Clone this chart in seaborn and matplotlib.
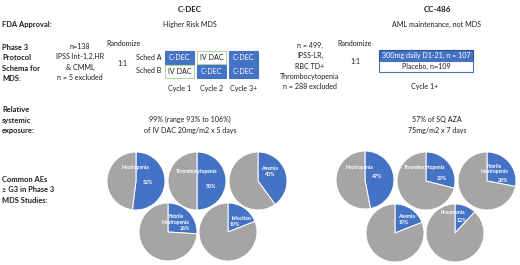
import matplotlib
matplotlib.use("Agg")
import matplotlib.pyplot as plt
import seaborn as sns
from matplotlib.patches import Rectangle

# adverse events >= G3 (percent of patients)
cdec_aes = ["Neutropenia", "Thrombocytopenia", "Anemia", "Febrile\nNeutropenia", "Infection"]
cdec_pct = [52, 50, 40, 26, 19]
cc486_aes = ["Neutropenia", "Thrombocytopenia", "Febrile\nNeutropenia", "Anemia", "Pneumonia"]
cc486_pct = [47, 29, 28, 19, 12]

# schema cells per cycle
cdec_cycles = ["Cycle 1", "Cycle 2", "Cycle 3+"]
sched_a = ["C-DEC", "IV DAC", "C-DEC"]
sched_b = ["IV DAC", "C-DEC", "C-DEC"]

BLUE = "#4472C4"
GREY = "#A5A5A5"
TXT = "#1e1e1e"
W, H = 520, 265

sns.set_theme(style="white")
plt.rcParams["font.family"] = ["Lato", "DejaVu Sans"]

fig = plt.figure(figsize=(W / 100, H / 100), dpi=100)
ax = fig.add_axes([0, 0, 1, 1])
ax.set_xlim(0, W)
ax.set_ylim(H, 0)
ax.axis("off")

fs = 5.1


def t(x, y, s, bold=False, ha="center", **kw):
    ax.text(x, y, s, ha=ha, va="center", fontsize=kw.pop("size", fs),
            fontweight="bold" if bold else "normal", color=kw.pop("color", TXT), **kw)


# headers / row labels
t(190, 10, "C-DEC", bold=True, size=5.8)
t(437, 10, "CC-486", bold=True, size=5.8)
t(2, 24, "FDA Approval:", bold=True, ha="left", size=5.4)
t(190, 24, "Higher Risk MDS")
t(437, 24, "AML maintenance, not MDS")
t(2, 63, "Phase 3\nProtocol\nSchema for\nMDS:", bold=True, ha="left", linespacing=1.55, size=5.4)
t(2, 120, "Relative\nsystemic\nexposure:", bold=True, ha="left", linespacing=1.55, size=5.4)
t(2, 190, "Common AEs\n\u2265 G3 in Phase 3\nMDS Studies:", bold=True, ha="left", linespacing=1.55, size=5.4)

# C-DEC schema
t(80, 62, "n=138\nIPSS Int-1,2,HR\n& CMML\nn = 5 excluded", linespacing=1.55)
t(124, 43, "Randomize")
t(122, 64, "1:1")
t(149, 57, "Sched A")
t(149, 70.5, "Sched B")
col_x = [165, 197, 229]
for i, cyc in enumerate(cdec_cycles):
    for row_y, drug in [(50.5, sched_a[i]), (64.5, sched_b[i])]:
        blue = drug == "C-DEC"
        ax.add_patch(Rectangle((col_x[i], row_y), 29, 13,
                               facecolor=BLUE if blue else "white",
                               edgecolor=BLUE if blue else "#B4D69A", lw=0.8))
        t(col_x[i] + 14.5, row_y + 6.5, drug, color="white" if blue else TXT)
    t(col_x[i] + 14.5, 89, cyc)
t(190, 125, "99% (range 93% to 106%)\nof IV DAC 20mg/m2 x 5 days", linespacing=1.55)

# CC-486 schema
t(310, 66, "n = 499,\nIPSS-LR,\nRBC TD+\nThrombocytopenia\nn = 288 excluded", linespacing=1.55)
t(355, 43, "Randomize")
t(355, 62, "1:1")
ax.add_patch(Rectangle((379, 50), 94, 10.5, facecolor=BLUE, edgecolor="#2F528F", lw=0.8))
t(426, 55.3, "300mg daily D1-21, n = 107", color="white")
ax.add_patch(Rectangle((379, 60.5), 94, 11.5, facecolor="white", edgecolor=BLUE, lw=0.8))
t(426, 66.3, "Placebo, n=109")
t(425, 86, "Cycle 1+")
t(437, 125, "57% of SQ AZA\n75mg/m2 x 7 days", linespacing=1.55)

# pie layout: centre (px), name offset, pct offset
R = 29
cdec_layout = [((136, 181), (0, -14), (12, 1)),
               ((197, 181), (0, -9), (14, 6)),
               ((258, 181), (11, -13), (12, -6)),
               ((168, 232), (8, -12.5), (17, -3)),
               ((228, 232), (13, -13), (7, -7))]
cc486_layout = [((365, 180), (-6, -13), (12, -4)),
                ((426, 181), (-1, -13), (16, -3)),
                ((487, 181), (7.5, -12), (16, 0)),
                ((395, 233), (11, -17), (9, -10)),
                ((455, 233), (-2, -21), (7, -12))]


def draw_pies(names, pcts, layout):
    for name, pct, ((cx, cy), (nx, ny), (px, py)) in zip(names, pcts, layout):
        pax = fig.add_axes([(cx - R) / W, 1 - (cy + R) / H, 2 * R / W, 2 * R / H])
        pax.pie([pct, 100 - pct], colors=[BLUE, GREY], startangle=90, counterclock=False,
                wedgeprops=dict(edgecolor="white", linewidth=0.7))
        pax.set_xlim(-1, 1)
        pax.set_ylim(-1, 1)
        pax.text(nx / R, -ny / R, name, ha="center", va="center", fontsize=3.6,
                 fontweight="bold", color="white", linespacing=1.2)
        pax.text(px / R, -py / R, f"{pct}%", ha="center", va="center", fontsize=3.8,
                 fontweight="bold", color="white")


draw_pies(cdec_aes, cdec_pct, cdec_layout)
draw_pies(cc486_aes, cc486_pct, cc486_layout)

fig.savefig("out.png", dpi=100)
